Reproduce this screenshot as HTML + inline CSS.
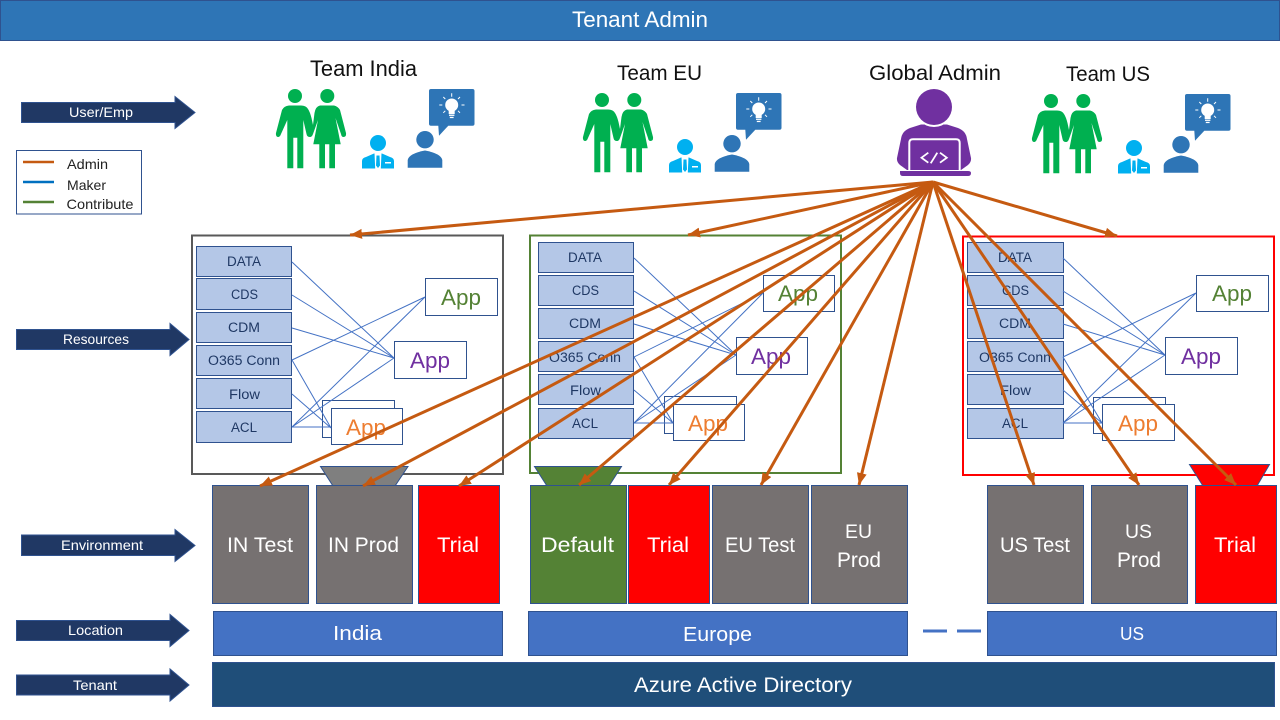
<!DOCTYPE html>
<html lang="en"><head><meta charset="utf-8"><title>Tenant Admin</title>
<style>
html,body{margin:0;padding:0;background:#fff}
svg{display:block}
text{font-family:"Liberation Sans",sans-serif;text-anchor:middle}
.b{fill:#b4c7e7;stroke:#2f528f;stroke-width:1}
.bt{font-size:13.5px;fill:#1f3864}
.a{fill:#fff;stroke:#2f528f;stroke-width:1}
.at{font-size:22px}
.l{stroke:#4472c4;stroke-width:1;fill:none}
.e{stroke:#2f528f;stroke-width:1}
.w{fill:#fff;font-size:21px}
.ar{fill:#203864;stroke:#2f528f;stroke-width:1}
.at2{fill:#fff;font-size:14px}
.br{stroke:#c55a11;stroke-width:3;fill:none;marker-end:url(#m)}
.h{font-size:21px;fill:#111}
</style></head><body>
<svg width="1280" height="720" viewBox="0 0 1280 720" xmlns="http://www.w3.org/2000/svg">
<defs>
<marker id="m" markerUnits="userSpaceOnUse" markerWidth="14" markerHeight="12" refX="12" refY="5" orient="auto"><path d="M0,0 L12,5 L0,10 Z" fill="#c55a11"/></marker>
<g id="team">
 <g fill="#00b050">
  <circle cx="295" cy="96" r="7"/><circle cx="327.300" cy="96" r="7"/>
  <path d="M289,105.500 H301 Q306,105.500 308,109 Q310,112 311.500,118 L313,125 L314.500,113 Q315.500,106.500 320,105.500 H334 Q338,106.500 340,110 L346,133 Q346.500,137 343.500,137 Q341.500,137 341,134 L335.500,118 L340.700,144.300 H335 V168.300 H329.300 V144.300 H325 V168.300 H319.300 V144.300 H313.300 L318,120 L313,134 Q312,137 310,137 Q307,137 306.500,134 L303.300,120 V168.300 H297.300 V137.700 H293.300 V168.300 H287.300 V120 L281,134 Q280,137 278,137 Q275.500,136.500 276,133 L282,110 Q284,106 289,105.500 Z"/>
 </g>
 <path d="M362,168.500 V161 Q362,158 366,157 L374,153.500 H382 L390,157 Q394,158 394,161 V168.500 Z" fill="#00b0f0"/>
 <path d="M374.500,153 H381.500 L380.800,168.500 H375.200 Z" fill="#fff"/>
 <path d="M376.500,155.500 H379.500 L380,165.500 L378,168 L376,165.500 Z" fill="#00b0f0"/>
 <circle cx="378" cy="143" r="8" fill="#00b0f0"/>
 <rect x="385" y="162" width="6" height="1.500" fill="#fff"/>
 <g fill="#2e75b6">
  <circle cx="425" cy="139.700" r="8.700"/>
  <path d="M407.700,167.700 V160 Q409,153.500 425,150.500 Q441,153.500 442.300,160 V167.700 Z"/>
  <path d="M431,89 H472.500 Q474.500,89 474.500,91 V123.700 Q474.500,125.700 472.500,125.700 H448.300 L439,135.700 L438.300,125.700 H431 Q429,125.700 429,123.700 V91 Q429,89 431,89 Z"/>
 </g>
 <g fill="#fff" stroke="#fff">
  <circle cx="451.700" cy="105" r="6.500" stroke="none"/>
  <rect x="448.700" y="109" width="6" height="5" stroke="none"/>
  <rect x="449" y="114.600" width="5.400" height="1.300" stroke="none"/>
  <rect x="449.800" y="116.800" width="3.800" height="1.300" stroke="none"/>
  <path d="M451.700,93.300 V96.700 M443.300,97 L445.300,99 M460,97 L458,99 M439.300,105 H442.300 M461.500,105 H464.500 M443.300,112.800 L445.300,110.800 M460,112.800 L458,110.800" fill="none" stroke-width="1"/>
 </g>
</g>
</defs>
<rect width="1280" height="720" fill="#fff"/>

<!-- header -->
<rect x="0.500" y="0.500" width="1279" height="40" fill="#2e75b6" stroke="#2f528f"/>
<text x="640" y="27" fill="#fff" font-size="22" textLength="136" lengthAdjust="spacingAndGlyphs">Tenant Admin</text>

<!-- team heads -->
<text class="h" x="363.500" y="76" font-size="22" style="font-size:22px" textLength="107" lengthAdjust="spacingAndGlyphs">Team India</text>
<text class="h" x="659.500" y="80" textLength="85" lengthAdjust="spacingAndGlyphs">Team EU</text>
<text class="h" x="935" y="80" textLength="132" lengthAdjust="spacingAndGlyphs">Global Admin</text>
<text class="h" x="1108" y="81" textLength="84" lengthAdjust="spacingAndGlyphs">Team US</text>

<use href="#team"/>
<use href="#team" transform="translate(307,4)"/>
<use href="#team" transform="translate(756,5)"/>

<!-- global admin -->
<path d="M910,128 L921,124.500 H947 L958,128 Q966,131 967,139 L971,158 Q971.500,162 968,165 L961,170 H907 L900,165 Q896.500,162 897,158 L901,139 Q902,131 910,128 Z" fill="#7030a0"/>
<circle cx="934" cy="107" r="20" fill="#fff"/>
<circle cx="934" cy="107" r="18" fill="#7030a0"/>
<path d="M909.300,171 V143 Q909.300,139.300 913,139.300 H956 Q959.700,139.300 959.700,143 V171 Z" fill="#7030a0" stroke="#fff" stroke-width="2"/>
<path d="M900,171 H968 Q971,171 971,173 Q971,176 968,176 H903 Q900,176 900,173 Z" fill="#7030a0"/>
<path d="M928.300,152.700 L921.500,157.700 L928.300,162.700 M940,152.700 L946.800,157.700 L940,162.700 M937.300,152.700 L930.700,163.300" fill="none" stroke="#fff" stroke-width="1.800"/>

<!-- legend -->
<rect x="16.500" y="150.500" width="125" height="63.500" fill="#fff" stroke="#2f528f"/>
<path d="M23,162 H54" stroke="#c55a11" stroke-width="2.500"/>
<path d="M23,182 H54" stroke="#0070c0" stroke-width="2.500"/>
<path d="M23,202 H54" stroke="#548235" stroke-width="2.500"/>
<text x="87.500" y="169" font-size="14" fill="#222" textLength="41" lengthAdjust="spacingAndGlyphs">Admin</text>
<text x="86.500" y="190" font-size="14" fill="#222" textLength="39" lengthAdjust="spacingAndGlyphs">Maker</text>
<text x="100" y="209" font-size="14" fill="#222" textLength="67" lengthAdjust="spacingAndGlyphs">Contribute</text>

<!-- left arrows -->
<path class="ar" d="M21.500,102.500 H175 V96.500 L195,112.500 L175,128.500 V122.500 H21.500 Z"/>
<text class="at2" x="101" y="117" textLength="64" lengthAdjust="spacingAndGlyphs">User/Emp</text>
<path class="ar" d="M16.500,329.500 H170 V323.500 L189,339.500 L170,355.500 V349.500 H16.500 Z"/>
<text class="at2" x="96" y="344" textLength="66" lengthAdjust="spacingAndGlyphs">Resources</text>
<path class="ar" d="M21.500,535 H175 V529.500 L195,545.500 L175,561.500 V555.500 H21.500 Z"/>
<text class="at2" x="102" y="550" textLength="82" lengthAdjust="spacingAndGlyphs">Environment</text>
<path class="ar" d="M16.500,620.500 H170 V614.500 L189,630.500 L170,646.500 V640.500 H16.500 Z"/>
<text class="at2" x="95.500" y="635" textLength="55" lengthAdjust="spacingAndGlyphs">Location</text>
<path class="ar" d="M16.500,675 H170 V669 L189,685 L170,701 V695 H16.500 Z"/>
<text class="at2" x="95" y="690" textLength="44" lengthAdjust="spacingAndGlyphs">Tenant</text>

<!-- panels -->
<rect x="192" y="235.500" width="311" height="238.500" fill="#fff" stroke="#595959" stroke-width="2"/>
<rect x="530" y="235.500" width="311" height="237.500" fill="#fff" stroke="#548235" stroke-width="2"/>
<rect x="963" y="236.500" width="311" height="238.500" fill="#fff" stroke="#ff0000" stroke-width="2"/>

<!-- India panel -->
<rect class="b" x="196.500" y="246.500" width="95" height="30"/><text class="bt" x="244" y="266" textLength="34" lengthAdjust="spacingAndGlyphs">DATA</text>
<rect class="b" x="196.500" y="278.500" width="95" height="31"/><text class="bt" x="244.500" y="299" textLength="27" lengthAdjust="spacingAndGlyphs">CDS</text>
<rect class="b" x="196.500" y="312.500" width="95" height="30"/><text class="bt" x="244" y="332" textLength="32" lengthAdjust="spacingAndGlyphs">CDM</text>
<rect class="b" x="196.500" y="345.500" width="95" height="30"/><text class="bt" x="244" y="365" textLength="72" lengthAdjust="spacingAndGlyphs">O365 Conn</text>
<rect class="b" x="196.500" y="378.500" width="95" height="30"/><text class="bt" x="244.500" y="399" textLength="31" lengthAdjust="spacingAndGlyphs">Flow</text>
<rect class="b" x="196.500" y="411.500" width="95" height="31"/><text class="bt" x="244" y="432" textLength="26" lengthAdjust="spacingAndGlyphs">ACL</text>
<rect class="a" x="425.500" y="278.500" width="72" height="37"/><text class="at" fill="#548235" x="461" y="305" textLength="40" lengthAdjust="spacingAndGlyphs">App</text>
<rect class="a" x="394.500" y="341.500" width="72" height="37"/><text class="at" fill="#7030a0" x="430" y="368" textLength="40" lengthAdjust="spacingAndGlyphs">App</text>
<rect class="a" x="322.500" y="400.500" width="72" height="37"/>
<rect class="a" x="331.500" y="408.500" width="71" height="36"/><text class="at" fill="#ed7d31" x="366" y="435" textLength="40" lengthAdjust="spacingAndGlyphs">App</text>
<path class="l" d="M292,262 L394,358 M292,295 L394,358 M292,328 L394,358 M292,360 L425,297 M292,360 L331,428 M292,394 L331,428 M292,427 L425,297 M292,427 L394,358 M292,427 H331"/>

<!-- EU panel -->
<rect class="b" x="538.500" y="242.500" width="95" height="30"/><text class="bt" x="585" y="262" textLength="34" lengthAdjust="spacingAndGlyphs">DATA</text>
<rect class="b" x="538.500" y="275.500" width="95" height="30"/><text class="bt" x="585.500" y="295" textLength="27" lengthAdjust="spacingAndGlyphs">CDS</text>
<rect class="b" x="538.500" y="308.500" width="95" height="30"/><text class="bt" x="585" y="328" textLength="32" lengthAdjust="spacingAndGlyphs">CDM</text>
<rect class="b" x="538.500" y="341.500" width="95" height="30"/><text class="bt" x="585" y="362" textLength="72" lengthAdjust="spacingAndGlyphs">O365 Conn</text>
<rect class="b" x="538.500" y="374.500" width="95" height="30"/><text class="bt" x="585.500" y="395" textLength="31" lengthAdjust="spacingAndGlyphs">Flow</text>
<rect class="b" x="538.500" y="408.500" width="95" height="30"/><text class="bt" x="585" y="428" textLength="26" lengthAdjust="spacingAndGlyphs">ACL</text>
<rect class="a" x="763.500" y="275.500" width="71" height="36"/><text class="at" fill="#548235" x="798" y="301" textLength="40" lengthAdjust="spacingAndGlyphs">App</text>
<rect class="a" x="736.500" y="337.500" width="71" height="37"/><text class="at" fill="#7030a0" x="771" y="364" textLength="40" lengthAdjust="spacingAndGlyphs">App</text>
<rect class="a" x="664.500" y="396.500" width="72" height="37"/>
<rect class="a" x="673.500" y="404.500" width="71" height="36"/><text class="at" fill="#ed7d31" x="708" y="431" textLength="40" lengthAdjust="spacingAndGlyphs">App</text>
<path class="l" d="M634,258 L736,355 M634,291 L736,355 M634,324 L736,355 M634,357 L763,293 M634,357 L673,423 M634,390 L673,423 M634,423 L763,293 M634,423 L736,355 M634,423 H673"/>

<!-- US panel -->
<rect class="b" x="967.500" y="242.500" width="96" height="30"/><text class="bt" x="1015" y="262" textLength="34" lengthAdjust="spacingAndGlyphs">DATA</text>
<rect class="b" x="967.500" y="275.500" width="96" height="30"/><text class="bt" x="1015.500" y="295" textLength="27" lengthAdjust="spacingAndGlyphs">CDS</text>
<rect class="b" x="967.500" y="308.500" width="96" height="30"/><text class="bt" x="1015" y="328" textLength="32" lengthAdjust="spacingAndGlyphs">CDM</text>
<rect class="b" x="967.500" y="341.500" width="96" height="30"/><text class="bt" x="1015" y="362" textLength="72" lengthAdjust="spacingAndGlyphs">O365 Conn</text>
<rect class="b" x="967.500" y="374.500" width="96" height="30"/><text class="bt" x="1015.500" y="395" textLength="31" lengthAdjust="spacingAndGlyphs">Flow</text>
<rect class="b" x="967.500" y="408.500" width="96" height="30"/><text class="bt" x="1015" y="428" textLength="26" lengthAdjust="spacingAndGlyphs">ACL</text>
<rect class="a" x="1196.500" y="275.500" width="72" height="36"/><text class="at" fill="#548235" x="1232" y="301" textLength="40" lengthAdjust="spacingAndGlyphs">App</text>
<rect class="a" x="1165.500" y="337.500" width="72" height="37"/><text class="at" fill="#7030a0" x="1201" y="364" textLength="40" lengthAdjust="spacingAndGlyphs">App</text>
<rect class="a" x="1093.500" y="397.500" width="72" height="36"/>
<rect class="a" x="1102.500" y="404.500" width="72" height="36"/><text class="at" fill="#ed7d31" x="1138" y="431" textLength="40" lengthAdjust="spacingAndGlyphs">App</text>
<path class="l" d="M1063,258 L1165,355 M1063,291 L1165,355 M1063,324 L1165,355 M1063,357 L1196,293 M1063,357 L1102,423 M1063,390 L1102,423 M1063,423 L1196,293 M1063,423 L1165,355 M1063,423 H1102"/>

<!-- trapezoids -->
<path d="M320.500,466.500 H408 L395,486 H333 Z" fill="#7f7f7f" stroke="#2f528f"/>
<path d="M534.500,466.500 H621.500 L609,486 H547 Z" fill="#548235" stroke="#2f528f"/>
<path d="M1189.500,464.500 H1269.500 L1257,486 H1203 Z" fill="#ff0000" stroke="#2f528f"/>

<!-- environments -->
<rect class="e" x="212.500" y="485.500" width="96" height="118" fill="#767171"/><text class="w" x="260" y="552" textLength="66" lengthAdjust="spacingAndGlyphs">IN Test</text>
<rect class="e" x="316.500" y="485.500" width="96" height="118" fill="#767171"/><text class="w" x="363.500" y="552" textLength="71" lengthAdjust="spacingAndGlyphs">IN Prod</text>
<rect class="e" x="418.500" y="485.500" width="81" height="118" fill="#ff0000"/><text class="w" x="458" y="552" textLength="42" lengthAdjust="spacingAndGlyphs">Trial</text>
<rect class="e" x="530.500" y="485.500" width="96" height="118" fill="#548235"/><text class="w" x="577.500" y="552" textLength="73" lengthAdjust="spacingAndGlyphs">Default</text>
<rect class="e" x="628.500" y="485.500" width="81" height="118" fill="#ff0000"/><text class="w" x="668" y="552" textLength="42" lengthAdjust="spacingAndGlyphs">Trial</text>
<rect class="e" x="712.500" y="485.500" width="96" height="118" fill="#767171"/><text class="w" x="760" y="552" textLength="70" lengthAdjust="spacingAndGlyphs">EU Test</text>
<rect class="e" x="811.500" y="485.500" width="96" height="118" fill="#767171"/><text class="w" style="font-size:19px" x="858.500" y="538" textLength="27" lengthAdjust="spacingAndGlyphs">EU</text><text class="w" x="859" y="567" textLength="44" lengthAdjust="spacingAndGlyphs">Prod</text>
<rect class="e" x="987.500" y="485.500" width="96" height="118" fill="#767171"/><text class="w" x="1035" y="552" textLength="70" lengthAdjust="spacingAndGlyphs">US Test</text>
<rect class="e" x="1091.500" y="485.500" width="96" height="118" fill="#767171"/><text class="w" style="font-size:19px" x="1138.500" y="538" textLength="27" lengthAdjust="spacingAndGlyphs">US</text><text class="w" x="1139" y="567" textLength="44" lengthAdjust="spacingAndGlyphs">Prod</text>
<rect class="e" x="1195.500" y="485.500" width="81" height="118" fill="#ff0000"/><text class="w" x="1235" y="552" textLength="42" lengthAdjust="spacingAndGlyphs">Trial</text>

<!-- locations -->
<rect class="e" x="213.500" y="611.500" width="289" height="44" fill="#4472c4"/><text class="w" style="font-size:20px" x="357.500" y="640" textLength="49" lengthAdjust="spacingAndGlyphs">India</text>
<rect class="e" x="528.500" y="611.500" width="379" height="44" fill="#4472c4"/><text class="w" style="font-size:20px" x="717.500" y="641" textLength="69" lengthAdjust="spacingAndGlyphs">Europe</text>
<path d="M923,631 H947 M957,631 H981" stroke="#4472c4" stroke-width="3"/>
<rect class="e" x="987.500" y="611.500" width="289" height="44" fill="#4472c4"/><text class="w" style="font-size:18px" x="1132" y="640" textLength="24" lengthAdjust="spacingAndGlyphs">US</text>
<rect class="e" x="212.500" y="662.500" width="1062" height="44" fill="#1f4e79"/><text class="w" x="743" y="692" textLength="218" lengthAdjust="spacingAndGlyphs">Azure Active Directory</text>

<!-- admin connectors -->
<line class="br" x1="933" y1="182" x2="350" y2="235"/>
<line class="br" x1="933" y1="182" x2="688" y2="235"/>
<line class="br" x1="933" y1="182" x2="1117" y2="236"/>
<line class="br" x1="933" y1="182" x2="260" y2="486"/>
<line class="br" x1="933" y1="182" x2="363" y2="486"/>
<line class="br" x1="933" y1="182" x2="459" y2="486"/>
<line class="br" x1="933" y1="182" x2="579" y2="485"/>
<line class="br" x1="933" y1="182" x2="669" y2="485"/>
<line class="br" x1="933" y1="182" x2="761" y2="485"/>
<line class="br" x1="933" y1="182" x2="859" y2="485"/>
<line class="br" x1="933" y1="182" x2="1034" y2="485"/>
<line class="br" x1="933" y1="182" x2="1139" y2="485"/>
<line class="br" x1="933" y1="182" x2="1236" y2="485"/>
</svg>
</body></html>
